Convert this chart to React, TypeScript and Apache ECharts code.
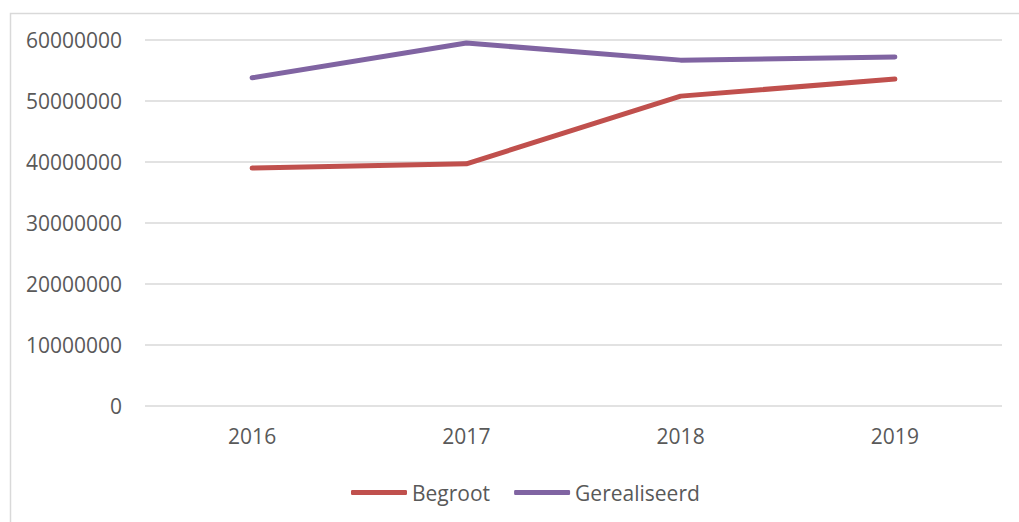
import React, { useEffect, useRef } from "react";
import * as echarts from "echarts";

const years = ["2016", "2017", "2018", "2019"];
const begroot = [39000000, 39700000, 50800000, 53600000];
const gerealiseerd = [53800000, 59500000, 56700000, 57200000];

export default function App() {
  const ref = useRef<HTMLDivElement>(null);
  useEffect(() => {
    const chart = echarts.init(ref.current!, undefined, { renderer: "svg" });
    const font = "'Open Sans', 'Noto Sans', sans-serif";
    chart.setOption({
      animation: false,
      backgroundColor: "#ffffff",
      textStyle: { fontFamily: font },
      graphic: [
        {
          type: "rect",
          left: 8,
          top: 11,
          shape: { x: 0, y: 0, width: 1040, height: 540 },
          style: { fill: "none", stroke: "#d9d9d9", lineWidth: 1.5 },
          silent: true,
        },
      ],
      grid: { left: 145, right: 17, top: 40, bottom: 116 },
      legend: {
        left: 346,
        top: 477,
        itemWidth: 56,
        itemHeight: 5,
        itemGap: 24,
        icon: "roundRect",
        textStyle: { fontFamily: font, fontSize: 21, color: "#595959" },
        data: ["Begroot", "Gerealiseerd"],
      },
      xAxis: {
        type: "category",
        data: years,
        boundaryGap: true,
        axisLine: { show: false },
        axisTick: { show: false },
        axisLabel: { color: "#595959", fontSize: 21, fontFamily: font, margin: 19 },
      },
      yAxis: {
        type: "value",
        min: 0,
        max: 60000000,
        interval: 10000000,
        axisLine: { show: false },
        axisTick: { show: false },
        splitLine: { lineStyle: { color: "#d9d9d9", width: 1.5 } },
        axisLabel: {
          color: "#595959",
          fontSize: 21,
          fontFamily: font,
          margin: 23,
          formatter: (v: number) => String(v),
        },
      },
      series: [
        {
          name: "Begroot",
          type: "line",
          data: begroot,
          showSymbol: false,
          symbol: "none",
          color: "#c0504d",
          lineStyle: { width: 5, cap: "round", join: "round", color: "#c0504d" },
        },
        {
          name: "Gerealiseerd",
          type: "line",
          data: gerealiseerd,
          showSymbol: false,
          symbol: "none",
          color: "#8064a2",
          lineStyle: { width: 5, cap: "round", join: "round", color: "#8064a2" },
        },
      ],
    });
    return () => chart.dispose();
  }, []);
  return (
    <div
      ref={ref}
      style={{ position: "absolute", left: 0, top: 0, width: 1019, height: 522 }}
    />
  );
}
